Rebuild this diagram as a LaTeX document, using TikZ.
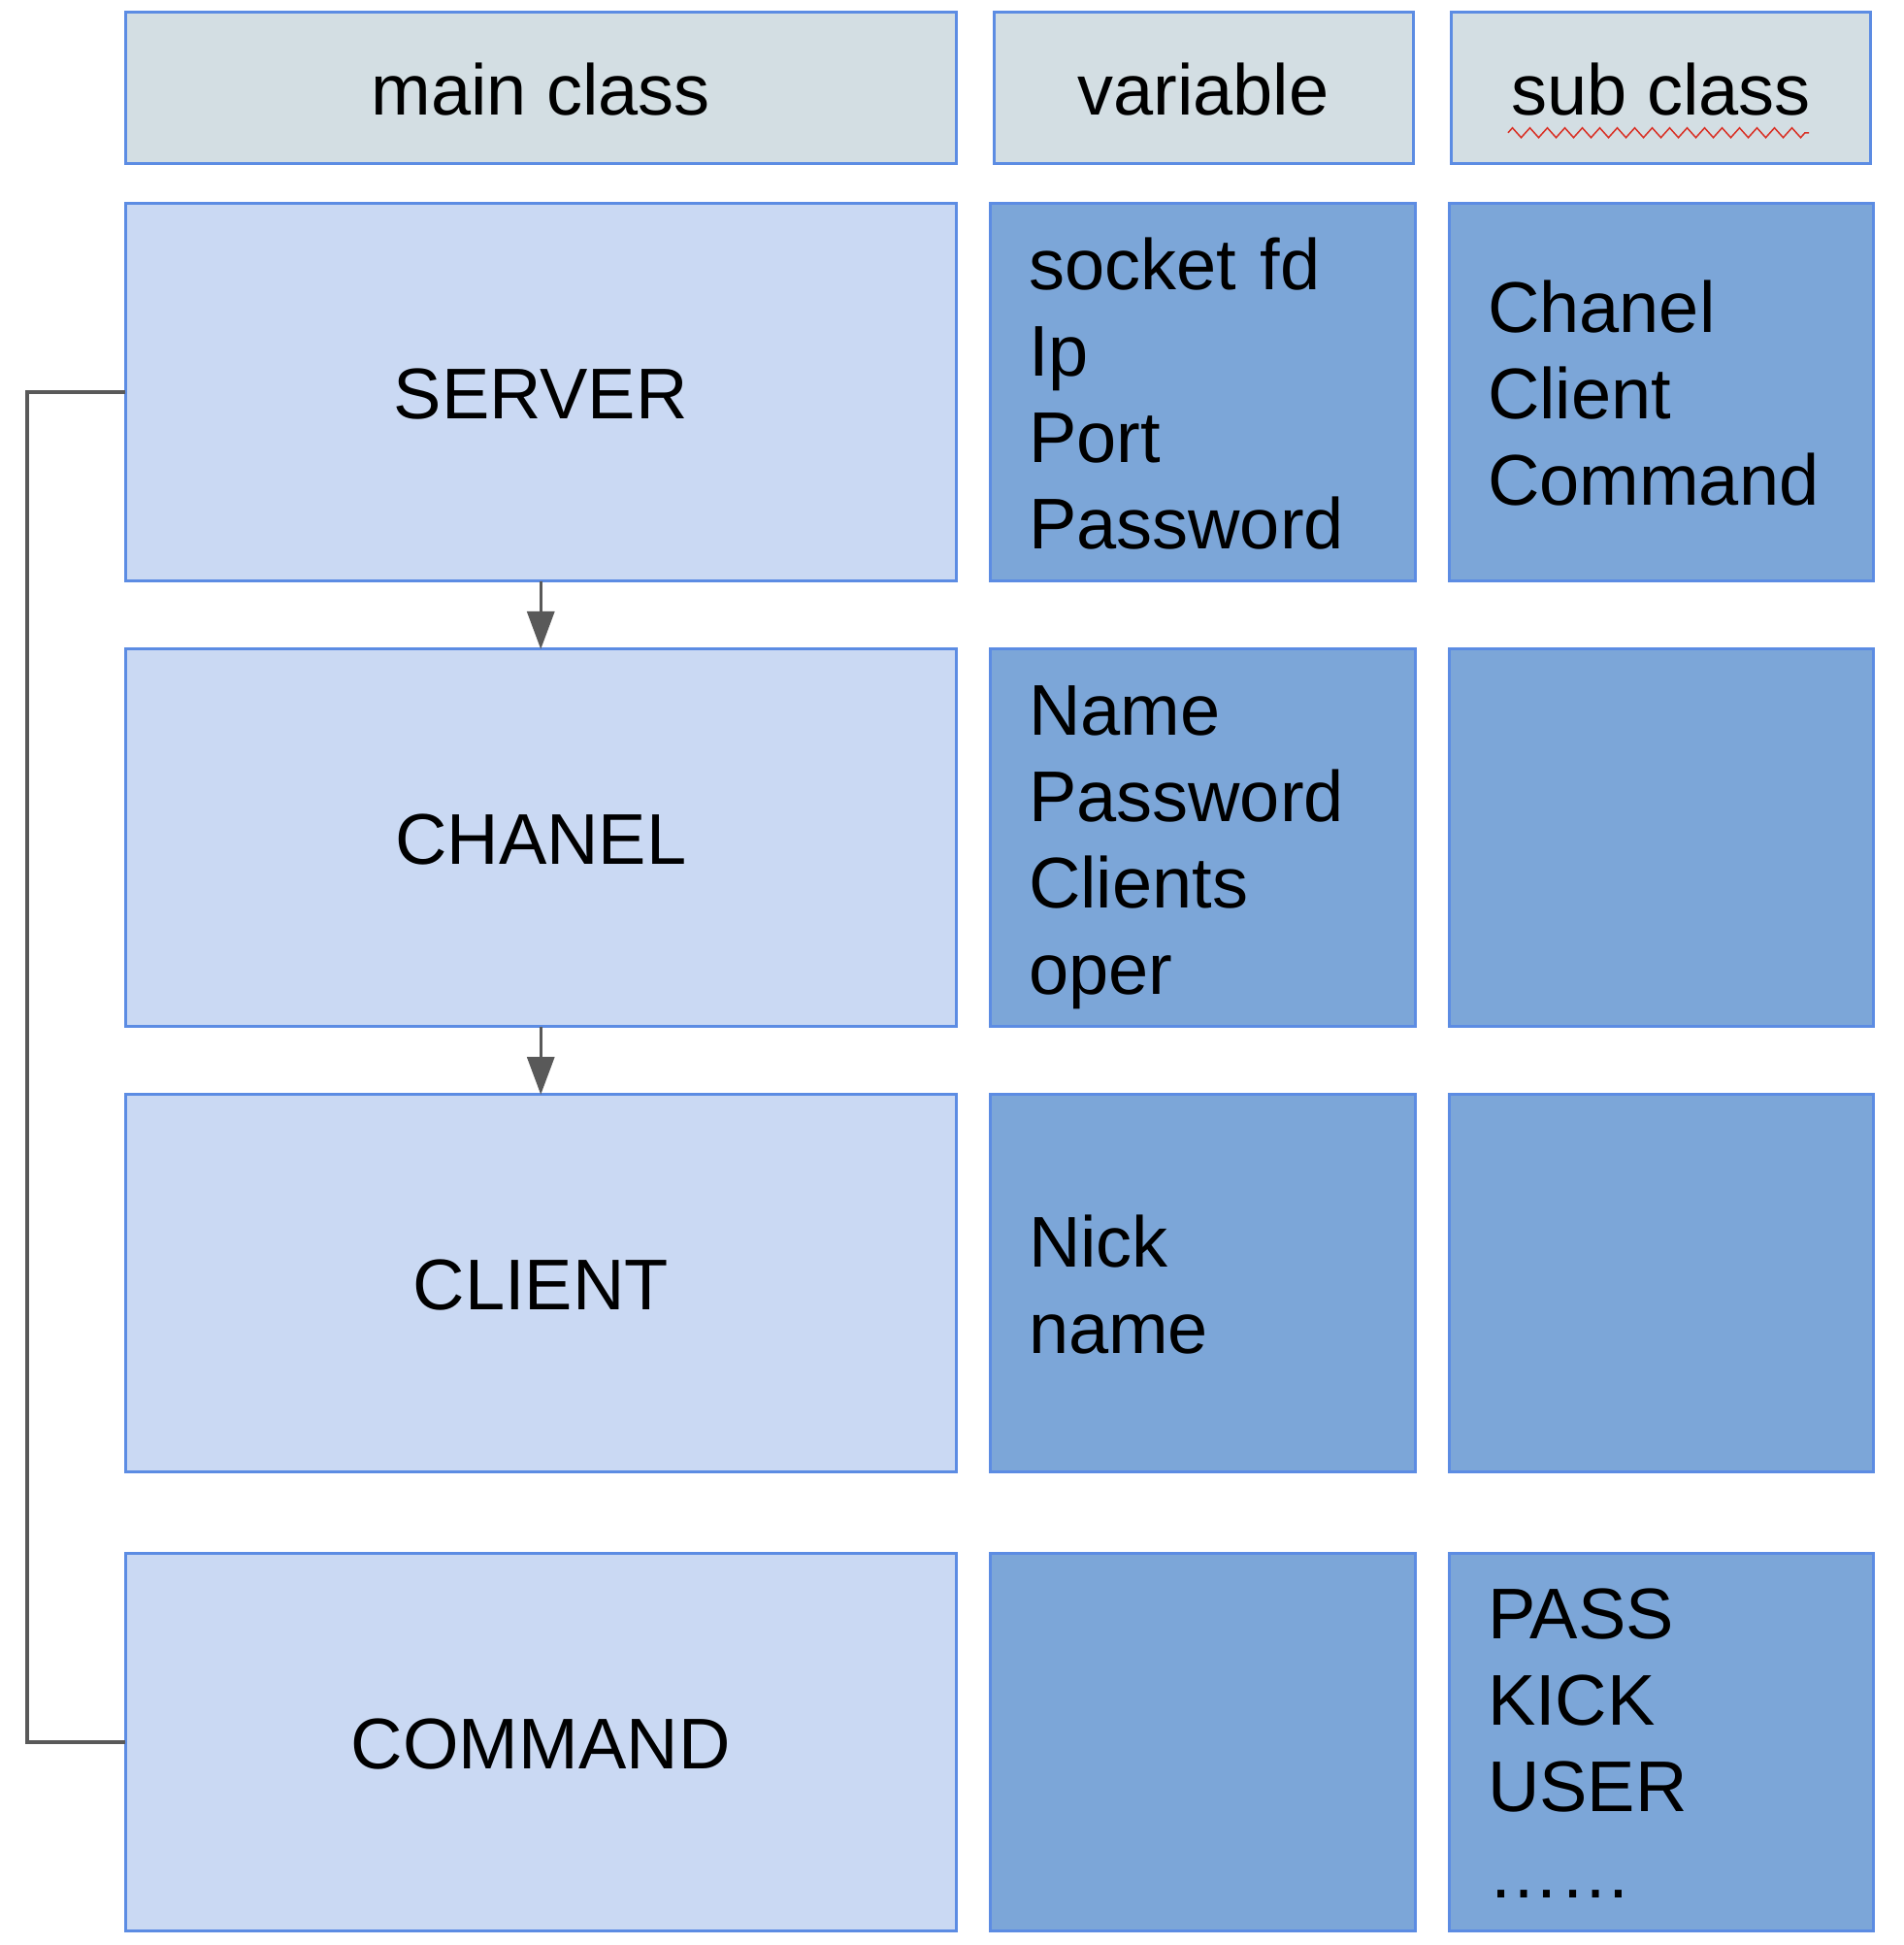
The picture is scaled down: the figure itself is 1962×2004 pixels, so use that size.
\documentclass[tikz,border=0pt]{standalone}
\usepackage{fontspec}
\setmainfont{Liberation Sans}
\usetikzlibrary{positioning,arrows.meta,decorations.pathmorphing}

\definecolor{hdrfill}{HTML}{D3DEE3}
\definecolor{mainfill}{HTML}{CAD9F3}
\definecolor{varfill}{HTML}{7CA6D8}
\definecolor{boxline}{HTML}{5C8CE3}
\definecolor{linkgray}{HTML}{595959}
\definecolor{spellred}{HTML}{D93025}

\newcommand{\lnstrut}{\rule[-8.5pt]{0pt}{44.5pt}}

\tikzstyle{cell}=[rectangle,
                  draw=boxline,
                  line width=1.5pt,
                  inner sep=0pt,
                  outer sep=0pt,
                  font=\fontsize{37pt}{44.5pt}\selectfont]
\tikzstyle{headcell}=[cell, fill=hdrfill, minimum height=78pt]
\tikzstyle{maincell}=[cell, fill=mainfill, minimum width=428.25pt, minimum height=194.5pt]
\tikzstyle{varcell}=[cell, fill=varfill, minimum height=194.5pt, inner xsep=20pt, text width=179.25pt, align=left]
\tikzstyle{subcell}=[varcell, text width=178.5pt]
\tikzstyle{link}=[draw=linkgray, line width=1.75pt]

\begin{document}
\begin{tikzpicture}[x=0.5pt, y=-0.5pt]
    \useasboundingbox (0,0) rectangle (1962,2004);

    \node [headcell, minimum width=428.25pt] (hmain) at (557.25,90.75) {\lnstrut main class};
    \node [headcell, minimum width=216pt, right=19.25pt of hmain] (hvar) {\lnstrut variable};
    \node [headcell, minimum width=216pt, right=19.75pt of hvar] (hsub) {\lnstrut sub class};

    \node [maincell] (server) at (557.25,404) {\lnstrut SERVER};
    \node [varcell, right=17.25pt of server] (servervar) {\lnstrut socket fd\\ Ip\\ Port\\ Password\lnstrut};
    \node [subcell, right=17.25pt of servervar] (serversub) {\lnstrut Chanel\\ Client\\ Command\lnstrut};

    \node [maincell] (chanel) at (557.25,863.4) {\lnstrut CHANEL};
    \node [varcell, right=17.25pt of chanel] (chanelvar) {\lnstrut Name\\ Password\\ Clients\\ oper\lnstrut};
    \node [subcell, right=17.25pt of chanelvar] (chanelsub) {};

    \node [maincell] (client) at (557.25,1322.3) {\lnstrut CLIENT};
    \node [varcell, right=17.25pt of client] (clientvar) {\lnstrut Nick\\ name\lnstrut};
    \node [subcell, right=17.25pt of clientvar] (clientsub) {};

    \node [maincell] (command) at (557.25,1794.85) {\lnstrut COMMAND};
    \node [varcell, right=17.25pt of command] (commandvar) {};
    \node [subcell, right=17.25pt of commandvar] (commandsub) {\lnstrut PASS\\ KICK\\ USER\\ ……\lnstrut};

    \draw [link, -{Triangle[length=19.5pt,width=14pt]}] (server) -- (chanel);
    \draw [link, -{Triangle[length=19.5pt,width=14pt]}] (chanel) -- (client);
    \draw [link] (server.west) -- ++(-101,0) |- (command.west);

    \draw [spellred, line width=0.75pt, decorate, decoration={zigzag, segment length=9pt, amplitude=2.5pt}]
        ([xshift=-78.75pt,yshift=-23pt]hsub.center) -- ([xshift=76.25pt,yshift=-23pt]hsub.center);
\end{tikzpicture}
\end{document}
